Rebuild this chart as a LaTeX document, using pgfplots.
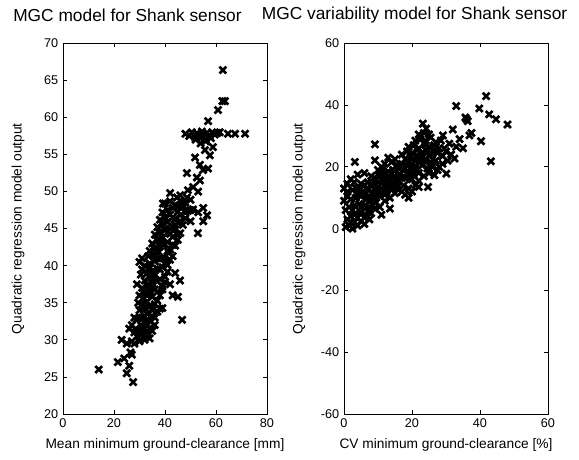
\documentclass[border=0pt]{standalone}
\usepackage{fontspec}
\setmainfont{Liberation Sans}
\usepackage{pgfplots}
\pgfplotsset{compat=1.18}
\begin{document}
\begin{tikzpicture}
\pgfplotsset{
  mgc/.style={
    scale only axis, width=153pt, height=278pt,
    axis line style={black, line width=0.6pt},
    tick align=inside, tick style={black, line width=0.6pt},
    major tick length=3pt,
    xtick pos=both, ytick pos=both,
    /pgf/number format/assume math mode=true,
    tick label style={font=\fontsize{9.5}{10}\selectfont},
    label style={font=\fontsize{10.3}{11}\selectfont},
    ylabel={Quadratic regression model output},
    ylabel style={at={(axis description cs:-0.22,0.5)}, anchor=center, rotate=0},
    xlabel style={at={(axis description cs:0.5,-0.084)}, anchor=center},
    title style={font=\fontsize{13}{14}\selectfont, anchor=center},
    clip=false,
  },
  pts/.style={only marks, mark=x, mark size=3.6pt, black, line width=2pt},
}
\begin{axis}[mgc,
  xmin=0, xmax=80, ymin=20, ymax=70,
  xtick={0,20,...,80}, ytick={20,25,...,70},
  xlabel={Mean minimum ground-clearance [mm]},
  title={MGC model for Shank sensor},
  title style={at={(axis description cs:0.316,1.055)}},
]
\addplot[pts] coordinates {
(14,26) (27.5,24.3) (25,25.5) (26,26.5) (21.5,27) (24,27.5) (26.5,28.3) (27,28) (23,30) (25,29.5) (27,29.8) (28,31) (26,31.5)
(28,29.5) (30,29.8) (32,30) (34,30.2) (29,30.5) (31,30.8) (33,31) (35,31.2) (28.5,31.5) (30.5,32) (32.5,32.2) (34.5,32.5) (36,32)
(29,32.8) (31,33) (33,33.5) (35,33.2) (37,33.8) (30,34) (32,34.3) (34,34.5) (36,34.8) (38,34.2) (39,34.3) (28,33) (27,32) (29.5,35) (31.5,35.5)
(46.7,32.7)
(30,36) (32,36.2) (34,36.5) (36,36.8) (38,36) (31,37) (33,37.3) (35,37.6) (37,37.9) (39,37.2) (32,38) (34,38.4) (36,38.7) (38,38.2) (40,38.5)
(30.5,38.8) (33,39) (35,39.3) (37,39.6) (39,39.8) (41,39.2) (32,40) (34,40.3) (36,40.6) (38,40.9) (40,40.4) (42,40.8) (31,41) (33.5,41.3)
(35.5,41.6) (37.5,41.8) (39.5,41.2) (41.5,41.7) (45.9,38) (45.1,35.8) (43,36) (42,37.5) (44,39) (29,37.5) (30,40.5)
(34,42) (36,42.3) (38,42.6) (40,42.9) (42,42.2) (44,42.7) (35,43) (37,43.4) (39,43.7) (41,43.2) (43,43.9) (45,43.5) (36,44.2) (38,44.5)
(40,44.8) (42,44.3) (44,44.9) (46,44.4) (52.9,44.4) (37,45.2) (39,45.6) (41,45.9) (43,45.3) (45,45.8) (47,45.5) (38,46.2) (40,46.5)
(42,46.9) (44,46.3) (46,46.8) (48,46.4) (56.5,46.8) (55,46) (50,46)
(39,47.2) (41,47.5) (43,47.8) (45,47.3) (47,47.9) (49,47.4) (51,47.6) (53,47.2) (55,47.8) (40,48.4) (42,48.7) (44,48.2) (46,48.8)
(48,48.5) (50,48.9) (39.2,48.4) (42,49.8) (44.7,49.2) (48.6,49.2) (46,49.5) (51,50.6) (49,50.2) (53,50)
(53.7,51.5) (52.5,51.9) (48.6,52.5) (54.9,52.9) (56.9,53.1) (53.7,53.6) (51.8,54.6) (57.6,54.9) (55.7,55.6) (58.8,56) (54,56.5) (56,57) (52,57.2)
(48,57.8) (49.5,57.5) (50.5,58) (51.5,57.6) (52.5,57.9) (53.5,57.4) (54.5,58.1) (55.5,57.7) (56.5,57.9) (57.5,57.5) (58.5,58) (59.5,57.7)
(60.5,57.9) (61.5,58) (52,57) (54,57.2) (56,56.8) (58,57.2) (64.7,57.8) (67.5,57.8) (71.4,57.8)
(56.9,59.5) (60.8,61) (62.5,62.2) (63.5,62.2) (62.7,66.4)
(29,31.2) (31,31.8) (33,32.6) (35,34) (37,35.3) (33,35.2) (35,35.8) (31,34.8) (37,36.5) (39,36.8) (40,37.8) (41,40.1) (43,41.3) (39,41)
(36,41.2) (34,39.8) (37,42) (41,42) (43,42.8) (45,44.2) (42,45) (44,45.5) (46,46) (48,47.2) (50,47.5) (45,48) (47,48.2) (43,46.5)
(41,44.5) (39,43) (35,38) (38,39.5) (30,33) (32,33.2) (29.5,31) (32,31.5) (34,31.6) (36,33) (33,36) (31,39.5)
};
\end{axis}
\begin{axis}[mgc, xshift=210.75pt,
  xmin=0, xmax=60, ymin=-60, ymax=60,
  xtick={0,20,...,60}, ytick={-60,-40,...,60},
  xlabel={CV minimum ground-clearance [\%]},
  title={MGC variability model for Shank sensor},
  title style={at={(axis description cs:0.346,1.055)}},
]
\addplot[pts] coordinates {
(0.5,0.5) (1.5,1) (2.5,0) (3,2) (1,3) (2,4) (4,3.5) (5,2.5) (6,1.5) (3.5,5) (5,5.5) (6.5,4.5) (7.5,3) (8,5) (0.5,6) (1.5,7) (3,7.5)
(4.5,8) (6,7.5) (7.5,7) (9,6.5) (0,9) (2,9.5) (3.5,10) (5,10.5) (6.5,9.5) (8,9) (9.5,8.5) (0,13) (1,12) (2.5,12.5) (4,13) (5.5,12)
(7,12.5) (8.5,11.5) (10,11) (1,14.5) (3,15) (5,14.5) (7,15) (3.2,21.6) (9.1,27.3) (9.1,22.1) (6,18) (4,17.5) (8,17) (11,4.5) (10.5,7)
(12,9) (13.5,6.5)
(9,10) (10.5,10.5) (12,11) (13.5,10) (15,11.5) (9.5,12.5) (11,13) (12.5,13.5) (14,12.5) (15.5,13) (17,12) (8.5,14) (10,15) (11.5,15.5)
(13,15) (14.5,14.5) (16,15.5) (17.5,14) (19,13) (9,16.5) (10.5,17) (12,17.5) (13.5,16.5) (15,17) (16.5,17.5) (18,16.5) (19.5,16) (10,19)
(11.5,19.5) (13,18.5) (14.5,19) (16,19.5) (17.5,19) (19,18.5) (20.5,17.5) (12,21) (14,21.5) (15.5,20.5) (17,21) (18.5,20.5) (20,21)
(11,20) (13,23) (15,22.5) (16,14) (18,11) (20,12) (21,14) (22,13.5) (24.7,13.5) (19,10)
(18,22.5) (19.5,23) (21,22) (22.5,23.5) (24,22.5) (25.5,21.5) (27,22) (17,24) (18.5,25) (20,24.5) (21.5,25.5) (23,24.5) (24.5,25)
(26,24) (27.5,24.5) (29,23.5) (19,26.5) (20.5,27) (22,26) (23.5,27.5) (25,26.5) (26.5,27) (28,26) (21,28.5) (22.5,29) (24,28.5)
(25.5,29.5) (27,28) (22,30.5) (23.5,31) (25,30.5) (23.2,34) (24.2,32.4) (20,20) (21.5,19) (23,20.5) (24.5,19.5) (26,20) (27.5,19)
(29,21) (22,18) (23.5,17) (25,18) (26.6,17.3) (30.1,17.8) (28,20) (20,16) (22,15.5)
(29.1,30.2) (32,32.1) (33,26.5) (32.5,22.7) (30,25) (31,27.5) (28.5,28.5) (29.5,26) (31.5,24) (30.5,22) (33,39.7) (35.7,36) (36.4,34.8)
(36.9,30.2) (37.5,31) (39.8,38.9) (40.3,28.3) (41.8,42.9) (42.7,37) (43.2,21.8) (44.7,35.4) (48.1,33.7) (36,35.5) (35,26) (34,29)
(2,2) (4,1) (6,3.5) (3,4.5) (5,7) (7,5.5) (8.5,7.5) (2.5,6) (1,10.5) (4,11.5) (6,11) (7.5,10.5) (9,13) (11,11.5) (12.5,12) (14,13.8)
(12,15.2) (15.5,16.2) (17,16.5) (18.5,18) (21,19.5) (22,21.5) (23.5,22) (25,23.5) (26.5,25.5) (24,27) (21.5,23.5) (19,21.5) (16.5,20)
(14,18) (11,17.5) (8,14.5) (6,14) (2,16) (3.5,13)
};
\end{axis}
\pgfresetboundingbox
\useasboundingbox (-47.25pt,-34.5pt) rectangle (387pt,310.5pt);
\end{tikzpicture}
\end{document}
